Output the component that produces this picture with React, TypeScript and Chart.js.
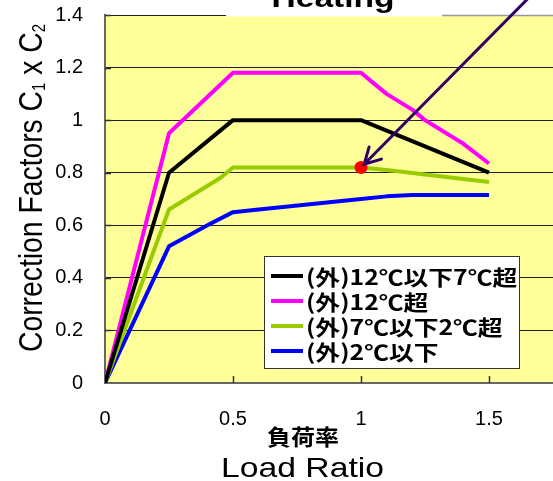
import { useEffect, useRef } from "react";
import { Chart, registerables } from "chart.js";

Chart.register(...registerables);

// Heating correction factor (C1 x C2) against load ratio, per outdoor-temperature band
const loadAbove7 = [0, 0.25, 0.5, 1.0, 1.1, 1.2, 1.25, 1.3, 1.4, 1.5];
const factorAbove7 = [0, 0.8, 1.0, 1.0, 0.96, 0.92, 0.9, 0.88, 0.84, 0.8];

const loadAbove12 = [0, 0.25, 0.5, 1.0, 1.05, 1.1, 1.2, 1.25, 1.3, 1.35, 1.4, 1.5];
const factorAbove12 = [0, 0.95, 1.18, 1.18, 1.14, 1.1, 1.04, 1.0, 0.97, 0.94, 0.91, 0.835];

const loadAbove2 = [0, 0.25, 0.45, 0.5, 1.0, 1.1, 1.5];
const factorAbove2 = [0, 0.66, 0.78, 0.82, 0.82, 0.81, 0.765];

const loadBelow2 = [0, 0.25, 0.4, 0.5, 0.6, 1.0, 1.1, 1.2, 1.5];
const factorBelow2 = [0, 0.52, 0.6, 0.65, 0.66, 0.7, 0.71, 0.715, 0.715];

// highlighted operating point and the pointer that leads to it
const markerLoad = [1.0];
const markerFactor = [0.82];
const pointerFromLoad = 1.69;
const pointerFromFactor = 1.5;

const seriesLabels = ["(外)12℃以下7℃超", "(外)12℃超", "(外)7℃以下2℃超", "(外)2℃以下"];
const seriesColors = ["#000000", "#FF00FF", "#99CC00", "#0000FF"];

const xTickValues = [0, 0.5, 1, 1.5];
const yTickValues = [0, 0.2, 0.4, 0.6, 0.8, 1.0, 1.2, 1.4];
const xMax = 1.75;
const yMax = 1.4;

const chartTitle = "Heating";
const xTitleJa = "負荷率";
const xTitleEn = "Load Ratio";
const yTitleParts: { text: string; sub: boolean }[] = [
  { text: "Correction Factors C", sub: false },
  { text: "1", sub: true },
  { text: " x C", sub: false },
  { text: "2", sub: true },
];

const LATIN = "'Liberation Sans', Arial, sans-serif";
const CJK = "'Noto Sans CJK JP', sans-serif";

const toPoints = (xs: number[], ys: number[]) => xs.map((x, i) => ({ x, y: ys[i] }));

// draws text squeezed/stretched horizontally to a given width
function fitText(
  ctx: CanvasRenderingContext2D,
  text: string,
  cx: number,
  y: number,
  font: string,
  width: number,
  baseline: CanvasTextBaseline = "alphabetic"
) {
  ctx.save();
  ctx.font = font;
  ctx.textBaseline = baseline;
  ctx.textAlign = "center";
  const w = ctx.measureText(text).width;
  ctx.translate(cx, y);
  ctx.scale(width / w, 1);
  ctx.fillText(text, 0, 0);
  ctx.restore();
}

// keep the plot area fixed: no extra room reserved for edge labels
const noEdgePadding = (s: any) => {
  s.paddingTop = 0;
  s.paddingBottom = 0;
  s.paddingLeft = 0;
  s.paddingRight = 0;
};

const decorations = {
  id: "decorations",
  beforeDraw(chart: any) {
    const { ctx, chartArea: a, width, height } = chart;
    ctx.save();
    ctx.fillStyle = "#FFFFFF";
    ctx.fillRect(0, 0, width, height);
    ctx.fillStyle = "#FFFF99";
    ctx.fillRect(a.left, a.top, a.right - a.left, a.bottom - a.top);
    ctx.restore();
  },
  afterDraw(chart: any) {
    const { ctx, chartArea: a, scales } = chart;
    const xs = scales.x;
    const ys = scales.y;
    ctx.save();

    // inward tick marks
    ctx.strokeStyle = "#333";
    ctx.lineWidth = 1.5;
    ctx.beginPath();
    xTickValues.forEach((v) => {
      if (v === 0) return;
      const px = Math.round(xs.getPixelForValue(v)) + 0.5;
      ctx.moveTo(px, a.bottom);
      ctx.lineTo(px, a.bottom - 7);
    });
    yTickValues.forEach((v) => {
      if (v === 0) return;
      const py = Math.round(ys.getPixelForValue(v)) + 0.5;
      ctx.moveTo(a.left, py);
      ctx.lineTo(a.left + 6, py);
    });
    ctx.stroke();

    // title box sitting on the top edge
    ctx.fillStyle = "#FFFFFF";
    ctx.fillRect(226, 0, 216, a.top + 1.5);
    ctx.strokeStyle = "#999";
    ctx.lineWidth = 1.5;
    ctx.beginPath();
    ctx.moveTo(442, a.top + 0.5);
    ctx.lineTo(a.right, a.top + 0.5);
    ctx.stroke();
    ctx.fillStyle = "#000";
    fitText(ctx, chartTitle, 333, 7, `bold 28px ${LATIN}`, 123);

    // x-axis titles
    fitText(ctx, xTitleJa, 303, 437, `bold 22px ${CJK}`, 72, "middle");
    fitText(ctx, xTitleEn, 302.5, 477, `28px ${LATIN}`, 163);

    // y-axis title with subscripts
    ctx.save();
    ctx.translate(42, 188);
    ctx.rotate(-Math.PI / 2);
    ctx.textBaseline = "alphabetic";
    ctx.textAlign = "left";
    const mainFont = `34px ${LATIN}`;
    const subFont = `18px ${LATIN}`;
    let total = 0;
    yTitleParts.forEach((p) => {
      ctx.font = p.sub ? subFont : mainFont;
      total += ctx.measureText(p.text).width;
    });
    const sx = 328 / total;
    ctx.scale(sx, 1);
    let cursor = -total / 2;
    yTitleParts.forEach((p) => {
      ctx.font = p.sub ? subFont : mainFont;
      ctx.fillText(p.text, cursor, p.sub ? 3 : 0);
      cursor += ctx.measureText(p.text).width;
    });
    ctx.restore();

    // legend
    const lg = { left: 264.5, top: 256.5, w: 255, h: 112, row0: 276, gap: 25 };
    ctx.fillStyle = "#FFFFFF";
    ctx.fillRect(lg.left, lg.top, lg.w, lg.h);
    ctx.strokeStyle = "#333";
    ctx.lineWidth = 1;
    ctx.strokeRect(lg.left, lg.top, lg.w, lg.h);
    seriesLabels.forEach((label, i) => {
      const y = lg.row0 + i * lg.gap;
      ctx.strokeStyle = seriesColors[i];
      ctx.lineWidth = 4;
      ctx.beginPath();
      ctx.moveTo(271, y);
      ctx.lineTo(303, y);
      ctx.stroke();
      ctx.save();
      ctx.fillStyle = "#000";
      ctx.font = `bold 21px ${CJK}`;
      ctx.textAlign = "left";
      ctx.textBaseline = "middle";
      ctx.translate(306, y + 1);
      ctx.scale(1.18, 1);
      ctx.fillText(label, 0, 0);
      ctx.restore();
    });

    // pointer arrow onto the highlighted point
    const ex = xs.getPixelForValue(markerLoad[0]);
    const ey = ys.getPixelForValue(markerFactor[0]);
    const sxp = xs.getPixelForValue(pointerFromLoad);
    const syp = ys.getPixelForValue(pointerFromFactor);
    const ang = Math.atan2(syp - ey, sxp - ex);
    const tipX = ex + Math.cos(ang) * 4.5;
    const tipY = ey + Math.sin(ang) * 4.5;
    ctx.strokeStyle = "#330066";
    ctx.lineWidth = 3;
    ctx.lineCap = "round";
    ctx.beginPath();
    ctx.moveTo(sxp, syp);
    ctx.lineTo(tipX, tipY);
    const head = 18;
    const spread = 0.5;
    ctx.moveTo(tipX + Math.cos(ang - spread) * head, tipY + Math.sin(ang - spread) * head);
    ctx.lineTo(tipX, tipY);
    ctx.lineTo(tipX + Math.cos(ang + spread) * head, tipY + Math.sin(ang + spread) * head);
    ctx.stroke();

    ctx.restore();
  },
};

export default function App() {
  const ref = useRef<HTMLCanvasElement>(null);

  useEffect(() => {
    if (!ref.current) return;
    const series = [
      toPoints(loadAbove7, factorAbove7),
      toPoints(loadAbove12, factorAbove12),
      toPoints(loadAbove2, factorAbove2),
      toPoints(loadBelow2, factorBelow2),
    ];
    const chart = new Chart(ref.current, {
      type: "line",
      data: {
        datasets: [
          {
            type: "scatter",
            label: "marker",
            data: toPoints(markerLoad, markerFactor),
            pointRadius: 6.5,
            pointBackgroundColor: "#FF0000",
            pointBorderWidth: 0,
            showLine: false,
            order: -1,
          } as any,
          ...series.map((data, i) => ({
            label: seriesLabels[i],
            data,
            borderColor: seriesColors[i],
            backgroundColor: seriesColors[i],
            borderWidth: 4,
            pointRadius: 0,
            tension: 0,
            fill: false,
            borderJoinStyle: "round" as const,
          })),
        ],
      },
      options: {
        responsive: false,
        animation: false,
        layout: { autoPadding: false, padding: { top: 15, left: 0, right: 0, bottom: 0 } },
        plugins: {
          legend: { display: false },
          title: { display: false },
          tooltip: { enabled: false },
        },
        scales: {
          x: {
            type: "linear",
            min: 0,
            max: xMax,
            afterBuildTicks: (s: any) => {
              s.ticks = xTickValues.map((value) => ({ value }));
            },
            afterFit: (s: any) => {
              s.height = 98;
              noEdgePadding(s);
            },
            grid: { display: false, drawTicks: false },
            border: { display: true, color: "#666", width: 2 },
            ticks: {
              color: "#000",
              font: { family: LATIN, size: 20 },
              padding: 24,
              maxRotation: 0,
              autoSkip: false,
              callback: (v: any) => String(v),
            },
          },
          y: {
            type: "linear",
            min: 0,
            max: yMax,
            afterBuildTicks: (s: any) => {
              s.ticks = yTickValues.map((value) => ({ value }));
            },
            afterFit: (s: any) => {
              s.width = 105;
              noEdgePadding(s);
            },
            grid: {
              drawTicks: false,
              lineWidth: 1,
              color: (c: any) => (c.tick && c.tick.value === 0 ? "rgba(0,0,0,0)" : "#222"),
            },
            border: { display: true, color: "#666", width: 2 },
            ticks: {
              color: "#000",
              font: { family: LATIN, size: 20 },
              padding: 22,
              callback: (v: any) => String(Math.round(Number(v) * 10) / 10),
            },
          },
        },
      },
      plugins: [decorations],
    });
    return () => chart.destroy();
  }, []);

  return (
    <div style={{ position: "absolute", left: 0, top: 0, width: 553, height: 481, background: "#fff" }}>
      <canvas ref={ref} width={553} height={481} style={{ display: "block" }} />
    </div>
  );
}
